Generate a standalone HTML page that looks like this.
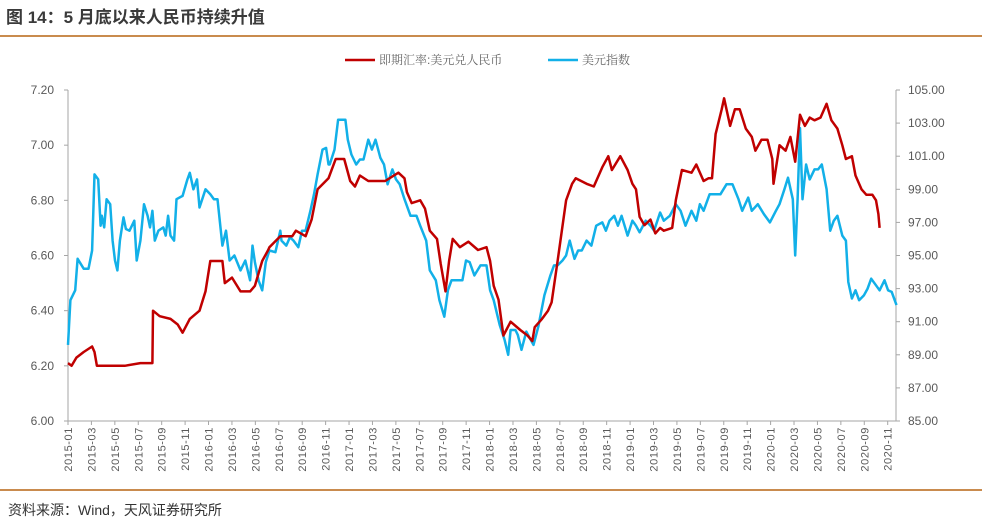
<!DOCTYPE html>
<html><head><meta charset="utf-8">
<style>
body{margin:0;background:#fff;width:982px;height:522px;overflow:hidden;font-family:"Liberation Sans","Noto Sans CJK SC",sans-serif;}
</style></head>
<body>
<svg id="chart" width="982" height="522" xmlns="http://www.w3.org/2000/svg" style="position:absolute;left:0;top:0">
<text x="6" y="23" font-size="17" font-weight="bold" fill="#3a3a3a" font-family="Liberation Sans, Noto Sans CJK SC, sans-serif">图 14：5 月底以来人民币持续升值</text>
<rect x="0" y="35" width="982" height="2" fill="#c98b4e"/>
<rect x="0" y="489" width="982" height="2" fill="#c98b4e"/>
<text x="8" y="515" font-size="14" fill="#333" font-family="Liberation Sans, Noto Sans CJK SC, sans-serif">资料来源：Wind，天风证券研究所</text>
<g>
<line x1="345" y1="60" x2="375" y2="60" stroke="#c00000" stroke-width="2.5"/>
<text x="379" y="64" font-size="12" fill="#666" font-family="Liberation Sans, Noto Serif CJK SC, sans-serif">即期汇率:美元兑人民币</text>
<line x1="548" y1="60" x2="578" y2="60" stroke="#12b0e8" stroke-width="2.5"/>
<text x="582" y="64" font-size="12" fill="#666" font-family="Liberation Sans, Noto Serif CJK SC, sans-serif">美元指数</text>
</g>
<g id="axes"></g>
<g id="series"></g>
</svg>
<script>
const cnyT=[0,0.3,0.7,1.3,2.0,2.2,2.4,3.5,4.7,6.0,7.0,7.05,7.6,8.5,9.1,9.5,10.1,10.9,11.4,11.8,12.8,13.0,13.6,14.3,15.1,15.5,16.1,16.6,16.7,17.6,18.6,18.9,19.7,20.2,20.7,21.6,22.2,22.9,23.4,23.8,24.2,24.9,25.5,26.3,27.4,27.9,28.1,28.5,29.2,29.6,30.0,30.6,30.9,31.3,31.6,31.9,32.5,33.2,34.0,34.7,35.0,35.3,35.7,36.1,36.7,37.5,38.1,38.5,38.7,39.3,39.8,40.1,40.6,41.3,41.8,42.1,43.0,43.6,44.3,44.8,45.1,45.8,46.4,46.8,47.1,47.4,47.8,48.3,48.7,49.1,49.4,50.1,50.4,50.9,51.7,52.1,52.7,53.1,53.4,53.7,54.2,54.4,54.9,55.3,55.7,56.2,56.7,57.0,57.5,58.0,58.4,58.5,59.0,59.5,59.9,60.3,60.7,61.1,61.5,61.9,62.4,62.9,63.3,63.8,64.2,64.5,65.0,65.3,65.8,66.2,66.7,67.0,67.2,67.3];
const cnyV=[6.21,6.20,6.23,6.25,6.27,6.25,6.20,6.20,6.20,6.21,6.21,6.40,6.38,6.37,6.35,6.32,6.37,6.40,6.47,6.58,6.58,6.50,6.52,6.47,6.47,6.49,6.58,6.62,6.63,6.67,6.67,6.69,6.67,6.73,6.84,6.88,6.95,6.95,6.87,6.85,6.89,6.87,6.87,6.87,6.90,6.88,6.83,6.79,6.80,6.77,6.69,6.66,6.57,6.47,6.58,6.66,6.63,6.65,6.62,6.63,6.58,6.49,6.44,6.31,6.36,6.33,6.31,6.29,6.34,6.37,6.40,6.43,6.58,6.80,6.86,6.88,6.86,6.85,6.92,6.96,6.91,6.96,6.91,6.86,6.84,6.74,6.71,6.73,6.68,6.70,6.69,6.70,6.80,6.91,6.90,6.93,6.87,6.88,6.88,7.04,7.13,7.17,7.07,7.13,7.13,7.06,7.03,6.98,7.02,7.02,6.95,6.86,7.00,6.98,7.03,6.94,7.11,7.07,7.10,7.09,7.10,7.15,7.09,7.06,7.00,6.95,6.96,6.89,6.84,6.82,6.82,6.80,6.75,6.70];
const dxyT=[0,0.2,0.6,0.8,1.3,1.7,2.0,2.2,2.5,2.7,2.8,3.0,3.2,3.5,3.7,3.9,4.1,4.3,4.6,4.8,5.1,5.5,5.7,6.0,6.3,6.6,6.8,7.0,7.2,7.5,7.9,8.1,8.3,8.5,8.8,9.0,9.5,9.9,10.1,10.4,10.7,10.9,11.4,11.8,12.1,12.4,12.8,13.1,13.4,13.8,14.3,14.7,15.1,15.3,15.5,15.8,16.1,16.4,16.7,17.2,17.6,17.7,18.1,18.4,18.7,19.1,19.4,19.7,20.1,20.4,20.7,21.1,21.4,21.6,21.7,22.1,22.4,23.0,23.2,23.5,23.9,24.2,24.5,24.9,25.2,25.5,25.9,26.2,26.5,26.9,27.2,27.5,27.9,28.4,28.9,29.2,29.7,30.0,30.5,30.8,31.2,31.5,31.8,32.2,32.7,33.0,33.3,33.7,34.2,34.7,35.0,35.3,35.8,36.2,36.5,36.7,37.1,37.3,37.6,38.0,38.3,38.6,39.0,39.5,40.0,40.3,40.6,41.0,41.3,41.6,42.0,42.3,42.6,43.0,43.4,43.8,44.3,44.6,44.9,45.3,45.6,45.9,46.4,46.8,47.1,47.4,47.9,48.3,48.6,49.1,49.4,49.9,50.4,50.8,51.2,51.7,52.1,52.4,52.7,53.2,53.7,54.1,54.6,55.1,55.6,55.9,56.4,56.7,57.2,57.7,58.2,58.7,59.0,59.4,59.7,60.1,60.3,60.5,60.7,60.9,61.2,61.5,61.9,62.2,62.5,62.9,63.2,63.5,63.8,64.2,64.5,64.7,65.0,65.3,65.6,66.0,66.3,66.6,67.0,67.3,67.7,68.0,68.3,68.7];
const dxyV=[89.6,92.3,92.9,94.8,94.2,94.2,95.3,99.9,99.6,96.8,97.4,96.7,98.4,98.1,95.9,94.7,94.1,95.9,97.3,96.6,96.5,97.1,94.7,95.9,98.1,97.4,96.7,97.7,95.9,96.5,96.7,96.2,97.4,96.2,95.9,98.4,98.6,99.6,100.0,99.0,99.6,97.9,99.0,98.7,98.4,98.4,95.6,96.5,94.7,95.0,94.1,94.7,93.5,95.6,94.6,93.5,92.9,94.6,95.3,95.2,96.5,95.9,95.6,96.1,95.9,95.5,96.5,96.5,97.7,98.7,99.9,101.4,101.5,100.5,100.5,101.4,103.2,103.2,102.0,101.1,100.5,100.8,100.8,102.0,101.4,102.0,100.9,100.5,99.3,100.2,99.6,99.3,98.4,97.4,97.4,96.8,95.9,94.1,93.5,92.3,91.3,92.9,93.5,93.5,93.5,94.7,94.6,93.8,94.4,94.4,92.9,92.3,90.8,89.9,89.0,90.5,90.5,90.2,89.3,90.4,90.0,89.6,90.7,92.6,93.8,94.4,94.4,94.7,95.0,95.9,94.8,95.3,95.3,95.9,95.6,96.8,97.0,96.5,97.1,97.4,96.8,97.4,96.2,97.1,96.8,96.4,97.1,96.8,96.5,97.6,97.1,97.4,98.1,97.7,96.8,97.7,97.1,98.1,97.7,98.7,98.7,98.7,99.3,99.3,98.4,97.7,98.5,97.7,98.1,97.5,97.0,97.7,98.1,99.0,99.7,98.4,95.0,98.4,102.7,98.4,100.5,99.6,100.2,100.2,100.5,99.0,96.5,97.1,97.4,96.2,95.9,93.4,92.4,92.9,92.3,92.6,93.0,93.6,93.2,92.9,93.5,92.9,92.8,92.0];
const leftTicks=["6.00","6.20","6.40","6.60","6.80","7.00","7.20"];
const rightTicks=["85.00","87.00","89.00","91.00","93.00","95.00","97.00","99.00","101.00","103.00","105.00"];
const xLabels=[];
for(let y=2015;y<=2020;y++){for(let m=1;m<=11;m+=2){xLabels.push(y+"-"+(m<10?"0":"")+m);}}

const NS="http://www.w3.org/2000/svg";
const X0=68,X1=896,YT=90,YB=421,MPX=11.71,DPX=12.06;
const xs=m=>X0+m*MPX;
const xd=m=>X0+m*DPX;
const yL=v=>YB-(v-6)/1.2*(YB-YT);
const yR=v=>YB-(v-85)/20*(YB-YT);
const ax=document.getElementById('axes'), se=document.getElementById('series');
function mk(tag,attrs,parent){const e=document.createElementNS(NS,tag);for(const k in attrs)e.setAttribute(k,attrs[k]);parent.appendChild(e);return e;}
const gray="#a6a6a6";
let e;
e=mk('line',{x1:X0,y1:YT,x2:X0,y2:YB,stroke:gray},ax);


e=mk('line',{x1:X1,y1:YT,x2:X1,y2:YB,stroke:gray},ax);


e=mk('line',{x1:X0,y1:YB,x2:X1,y2:YB,stroke:gray},ax);


leftTicks.forEach(t=>{const y=yL(parseFloat(t));
 mk('line',{x1:X0-4,y1:y,x2:X0,y2:y,stroke:gray},ax);
 e=mk('text',{x:X0-14,y:y+4,'font-size':12,fill:'#595959','text-anchor':'end'},ax);e.textContent=t;
 
 
});
rightTicks.forEach(t=>{const y=yR(parseFloat(t));
 mk('line',{x1:X1,y1:y,x2:X1+4,y2:y,stroke:gray},ax);
 e=mk('text',{x:X1+12,y:y+4,'font-size':12,fill:'#595959'},ax);e.textContent=t;
 
 
});
xLabels.forEach((t,i)=>{const x=xs(i*2);
 mk('line',{x1:x,y1:YB,x2:x,y2:YB+4,stroke:gray},ax);
 e=mk('text',{x:0,y:0,'font-size':11,fill:'#595959','text-anchor':'end','letter-spacing':'0.6',transform:`translate(${x+4},${YB+6}) rotate(-90)`},ax);e.textContent=t;
 
 
});
function path(T,V,f){return T.map((t,i)=>(i?'L':'M')+xd(t).toFixed(1)+','+f(V[i]).toFixed(1)).join('');}
e=mk('path',{d:path(dxyT,dxyV,yR),fill:'none',stroke:'#12b0e8','stroke-width':2.5,'stroke-linejoin':'round'},se);


e=mk('path',{d:path(cnyT,cnyV,yL),fill:'none',stroke:'#c00000','stroke-width':2.5,'stroke-linejoin':'round'},se);


</script>
</body></html>
